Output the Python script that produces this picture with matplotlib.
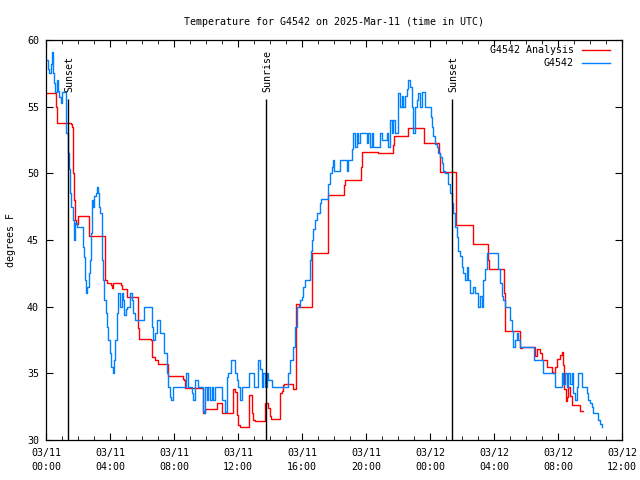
import datetime as dt
import matplotlib
matplotlib.use("Agg")
import matplotlib.pyplot as plt
import matplotlib.dates as mdates
from matplotlib.lines import Line2D

plt.rcParams['font.family'] = ['DejaVu Sans Mono']
plt.rcParams['font.size'] = 7.2

start = dt.datetime(2025, 3, 11, 0, 0)

# observed temps, hours since 03/11 00:00 UTC
obs_hours = [0.00, 0.09, 0.12, 0.19, 0.31, 0.39, 0.44, 0.50, 0.56, 0.69, 0.75, 0.81, 0.91, 1.00,
             1.22, 1.28, 1.38, 1.44, 1.50, 1.56, 1.66, 1.72, 1.75, 1.81, 1.91, 2.34, 2.38, 2.44,
             2.50, 2.56, 2.66, 2.75, 2.84, 2.89, 2.96, 3.00, 3.11, 3.17, 3.25, 3.31, 3.38, 3.47,
             3.53, 3.59, 3.64, 3.75, 3.81, 3.88, 3.97, 4.06, 4.16, 4.22, 4.25, 4.31, 4.42, 4.52,
             4.62, 4.73, 4.83, 4.89, 5.00, 5.08, 5.25, 5.36, 5.46, 5.56, 6.12, 6.61, 6.71, 6.81,
             6.92, 7.12, 7.39, 7.54, 7.59, 7.64, 7.75, 7.81, 7.96, 8.75, 8.89, 9.12, 9.19, 9.31,
             9.50, 9.83, 9.88, 9.94, 10.04, 10.14, 10.25, 10.36, 10.46, 10.56, 10.98, 11.19,
             11.31, 11.39, 11.56, 11.81, 11.94, 12.00, 12.12, 12.25, 12.69, 13.00, 13.25, 13.38,
             13.50, 13.56, 13.66, 13.79, 13.89, 14.12, 15.12, 15.25, 15.44, 15.56, 15.69, 15.88,
             16.00, 16.06, 16.19, 16.50, 16.56, 16.62, 16.69, 16.81, 16.94, 17.12, 17.19, 17.62,
             17.75, 17.88, 17.94, 18.00, 18.38, 18.81, 18.89, 19.12, 19.19, 19.31, 19.42, 19.52,
             19.62, 20.04, 20.14, 20.25, 20.36, 20.46, 20.88, 21.00, 21.29, 21.36, 21.50, 21.61,
             21.71, 21.81, 22.00, 22.03, 22.12, 22.23, 22.31, 22.44, 22.56, 22.64, 22.75, 22.86,
             22.91, 22.96, 23.06, 23.17, 23.27, 23.38, 23.48, 23.69, 24.06, 24.12, 24.19, 24.31,
             24.44, 24.50, 24.62, 24.75, 24.81, 24.94, 25.12, 25.25, 25.38, 25.44, 25.56, 25.69,
             25.75, 25.88, 26.00, 26.06, 26.19, 26.31, 26.38, 26.50, 26.69, 26.81, 27.00, 27.12,
             27.25, 27.31, 27.44, 27.56, 28.25, 28.38, 28.50, 28.59, 28.69, 29.00, 29.12, 29.19,
             29.31, 29.44, 29.53, 29.62, 30.50, 31.06, 31.81, 32.25, 32.33, 32.44, 32.54, 32.64,
             32.75, 32.88, 32.94, 33.06, 33.17, 33.25, 33.50, 33.81, 33.88, 34.00, 34.12, 34.19,
             34.50, 34.62, 34.75]
obs_temp = [58.5, 58.5, 57.8, 57.5, 58.2, 59.1, 57.5, 56.8, 56.1, 57.0, 56.2, 55.7, 55.3, 56.1,
            54.5, 53.0, 51.5, 50.3, 48.5, 47.5, 46.5, 45.6, 45.0, 46.3, 46.0, 44.5, 43.7, 42.0,
            41.0, 41.5, 42.5, 43.5, 45.5, 48.0, 47.5, 48.3, 48.5, 49.0, 48.5, 47.5, 47.0, 45.5,
            43.5, 42.0, 40.5, 39.5, 38.5, 37.5, 36.5, 35.5, 35.0, 35.5, 36.0, 37.5, 39.5, 41.0,
            40.0, 41.0, 40.5, 39.4, 39.8, 40.0, 41.0, 40.5, 39.5, 39.0, 40.0, 38.5, 37.5, 38.0,
            39.0, 38.0, 36.5, 35.5, 35.0, 34.0, 33.2, 33.0, 34.0, 35.0, 34.0, 33.5, 33.0, 34.5,
            34.0, 32.2, 32.0, 34.0, 33.0, 34.0, 33.0, 34.0, 33.0, 34.0, 33.0, 32.1,
            34.7, 35.0, 36.0, 35.0, 34.5, 34.0, 33.0, 34.0, 35.0, 34.0, 36.0, 35.3,
            34.0, 35.0, 34.0, 35.0, 34.5, 34.0, 35.0, 36.0, 37.0, 38.5, 40.0, 40.5,
            40.7, 41.5, 42.0, 43.5, 44.2, 45.0, 45.8, 46.5, 47.0, 47.8, 48.1, 49.2,
            50.0, 50.5, 51.0, 50.2, 51.0, 50.2, 51.0, 51.8, 53.0, 52.0, 53.0, 52.3,
            53.0, 52.3, 53.0, 52.0, 53.0, 52.0, 53.0, 52.5, 53.0, 52.0, 54.0, 53.0,
            54.0, 53.0, 55.3, 56.0, 55.0, 55.8, 55.0, 55.8, 56.3, 57.0, 56.5, 55.0,
            54.0, 53.0, 55.0, 55.5, 56.0, 55.0, 56.1, 55.0, 54.2, 53.5, 52.8, 52.2,
            52.0, 51.5, 51.2, 50.8, 50.2, 50.0, 49.2, 48.5, 47.8, 47.0, 46.0, 45.2,
            44.2, 43.8, 43.0, 42.5, 42.0, 43.0, 42.0, 41.0, 41.5, 41.0, 40.0, 40.8,
            40.0, 42.0, 42.8, 44.0, 42.8, 41.8, 40.8, 40.5, 40.0, 39.0, 38.2, 37.0,
            37.5, 38.0, 37.5, 37.0, 36.0, 35.0, 34.0, 35.0, 34.2, 35.0, 34.0, 35.0,
            34.2, 35.0, 33.5, 33.0, 34.0, 35.0, 34.0, 33.5, 33.0, 32.8, 32.5, 32.0,
            31.5, 31.2, 31.0]

# analysis temps
ana_hours = [0.00, 0.62, 0.69, 1.56, 1.62, 1.69, 1.75, 1.81, 1.88, 1.98, 2.69, 3.66, 3.69, 3.81,
             4.06, 4.12, 4.19, 4.69, 4.75, 5.06, 5.72, 5.81, 6.56, 6.62, 6.81, 7.00, 7.62, 8.56,
             8.62, 8.69, 9.81, 9.94, 10.69, 11.00, 11.69, 11.81, 11.94, 12.00, 12.12, 12.69,
             12.88, 12.94, 13.06, 13.69, 13.88, 14.00, 14.06, 14.62, 14.72, 14.81, 14.88, 15.44,
             15.62, 15.81, 16.62, 17.62, 18.62, 18.69, 19.69, 19.75, 20.75, 21.69, 21.75, 22.62,
             23.62, 24.56, 24.62, 25.62, 26.69, 27.62, 27.69, 28.62, 28.69, 29.62, 29.75, 30.56,
             30.69, 30.88, 31.00, 31.31, 31.62, 31.69, 31.81, 31.94, 32.12, 32.25, 32.31, 32.38,
             32.50, 32.56, 32.62, 32.75, 32.88, 33.38, 33.59]
ana_temp = [56.0, 55.0, 53.8, 53.7, 53.5, 50.0, 48.0, 46.5, 46.2, 46.8, 45.3, 44.0, 42.0, 41.8,
            41.6, 41.4, 41.8, 41.6, 41.3, 40.7, 38.4, 37.6, 37.5, 36.2, 36.0, 35.7, 34.8, 34.6,
            34.5, 33.9, 32.0, 32.3, 32.8, 32.0, 33.8, 33.6, 31.9, 31.1, 31.0, 33.4,
            32.0, 31.5, 31.4, 32.8, 32.4, 31.8, 31.6, 33.5, 33.7, 34.1, 34.2, 33.8,
            40.2, 40.0, 44.0, 48.4, 49.1, 49.5, 50.5, 51.6, 51.5, 52.1, 52.8, 53.4,
            52.3, 51.5, 50.1, 46.1, 44.7, 43.5, 42.8, 41.0, 38.2, 36.9, 37.0, 36.3,
            36.8, 36.5, 36.0, 35.5, 35.1, 35.0, 35.5, 36.1, 36.4, 36.6, 35.6, 33.8,
            32.9, 33.2, 34.0, 33.3, 32.6, 32.2, 32.2]

sun_hours = [1.375, 13.75, 25.375]
sun_labels = ['Sunset', 'Sunrise', 'Sunset']

def to_time(hours):
    return [start + dt.timedelta(hours=h) for h in hours]

fig = plt.figure(figsize=(6.4, 4.8), dpi=100)
ax = fig.add_axes([46/640, 40/480, 576/640, 400/480])

ax.plot(to_time(ana_hours), ana_temp, color='#ff0000', lw=1.0, drawstyle='steps-post')
ax.plot(to_time(obs_hours), obs_temp, color='#0080ff', lw=1.0, drawstyle='steps-post')

for h, lab in zip(sun_hours, sun_labels):
    t = start + dt.timedelta(hours=h)
    ax.vlines(t, 30, 55.6, color='black', lw=1.0)
    ax.text(t + dt.timedelta(minutes=6), 56.1, lab, rotation=90, ha='center', va='bottom')

ax.set_xlim(start, start + dt.timedelta(hours=36))
ax.set_ylim(30, 60)
ax.set_yticks(range(30, 61, 5))
ax.xaxis.set_major_locator(mdates.HourLocator(byhour=range(0, 24, 4)))
ax.xaxis.set_minor_locator(mdates.HourLocator())
ax.xaxis.set_major_formatter(mdates.DateFormatter('%m/%d\n%H:%M'))
ax.tick_params(which='major', direction='in', length=5, top=True, right=True, pad=5)
ax.tick_params(which='minor', direction='in', length=3, top=True)
ax.tick_params(axis='x', which='major', pad=6)
for lbl in ax.get_xticklabels():
    lbl.set_linespacing(1.45)
for s in ax.spines.values():
    s.set_linewidth(0.9)

ax.set_ylabel('degrees F', labelpad=8)
ax.set_title('Temperature for G4542 on 2025-Mar-11 (time in UTC)', fontsize=7.2, pad=11)

# legend, gnuplot style: text right aligned, sample to the right
tr = ax.transAxes
ax.text(528/576, 1 - 10/400, 'G4542 Analysis', transform=tr, ha='right', va='center')
ax.text(528/576, 1 - 23/400, 'G4542', transform=tr, ha='right', va='center')
ax.add_line(Line2D([536/576, 564/576], [1 - 10/400, 1 - 10/400], transform=tr, color='#ff0000', lw=1.0))
ax.add_line(Line2D([536/576, 564/576], [1 - 23/400, 1 - 23/400], transform=tr, color='#0080ff', lw=1.0))

fig.savefig('out.png', dpi=100)
